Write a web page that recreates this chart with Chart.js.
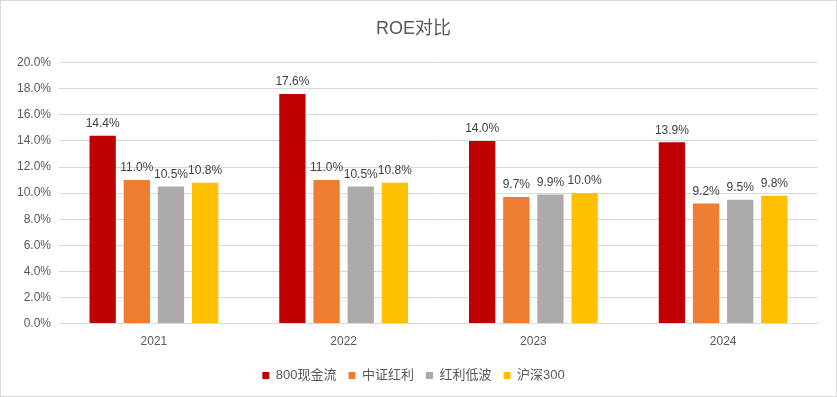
<!DOCTYPE html>
<html>
<head>
<meta charset="utf-8">
<script src="https://cdn.jsdelivr.net/npm/chart.js@4.4.1/dist/chart.umd.min.js"></script>
<style>
  html, body { margin: 0; padding: 0; background: #fff; }
  #wrap { width: 835px; height: 395px; border: 1px solid #d9d9d9; }
</style>
</head>
<body>
<div id="wrap"><canvas id="chart" width="835" height="395"></canvas></div>
<script>
// === DATOS ===
const years = ['2021', '2022', '2023', '2024'];
const cashflow800 = [14.4, 17.6, 14.0, 13.9];
const zzHongli = [11.0, 11.0, 9.7, 9.2];
const hongliDibo = [10.5, 10.5, 9.9, 9.5];
const hs300 = [10.8, 10.8, 10.0, 9.8];
const seriesNames = ['800现金流', '中证红利', '红利低波', '沪深300'];
const colors = ['#C00000', '#ED7D31', '#AEAAAA', '#FFC000'];

const fontFamily = '"Liberation Sans", "Noto Sans CJK SC", sans-serif';

// etiquetas encima de cada barra
const etiquetas = {
  id: 'etiquetas',
  afterDatasetsDraw(chart) {
    const { ctx } = chart;
    ctx.save();
    ctx.font = '12px ' + fontFamily;
    ctx.fillStyle = '#404040';
    ctx.textAlign = 'center';
    ctx.textBaseline = 'bottom';
    chart.data.datasets.forEach((ds, i) => {
      chart.getDatasetMeta(i).data.forEach((bar, j) => {
        ctx.fillText(ds.data[j].toFixed(1) + '%', bar.x, bar.y - 6);
      });
    });
    ctx.restore();
  }
};

const datasets = [cashflow800, zzHongli, hongliDibo, hs300].map((d, i) => ({
  label: seriesNames[i],
  data: d,
  backgroundColor: colors[i],
  borderWidth: 0,
  barPercentage: 0.77,
  categoryPercentage: 0.72
}));

new Chart(document.getElementById('chart'), {
  type: 'bar',
  data: { labels: years, datasets },
  plugins: [etiquetas],
  options: {
    responsive: false,
    animation: false,
    layout: { padding: { left: 8, right: 18, top: 6, bottom: 4 } },
    plugins: {
      title: {
        display: true,
        text: 'ROE对比',
        color: '#595959',
        font: { family: fontFamily, size: 18, weight: 'normal' },
        padding: { top: 11, bottom: 23 }
      },
      legend: {
        position: 'bottom',
        labels: {
          color: '#595959',
          font: { family: fontFamily, size: 13 },
          boxWidth: 7,
          boxHeight: 7,
          padding: 12
        }
      },
      tooltip: { enabled: false }
    },
    scales: {
      x: {
        grid: { display: false },
        border: { color: '#d9d9d9' },
        ticks: { color: '#595959', font: { family: fontFamily, size: 12 } },
        afterFit: s => { s.height += 5; }
      },
      y: {
        min: 0,
        max: 20,
        ticks: {
          stepSize: 2,
          color: '#595959',
          font: { family: fontFamily, size: 12 },
          callback: v => v.toFixed(1) + '%',
          padding: 8
        },
        grid: { color: '#d9d9d9', drawTicks: false },
        border: { display: false }
      }
    }
  }
});
</script>
</body>
</html>
